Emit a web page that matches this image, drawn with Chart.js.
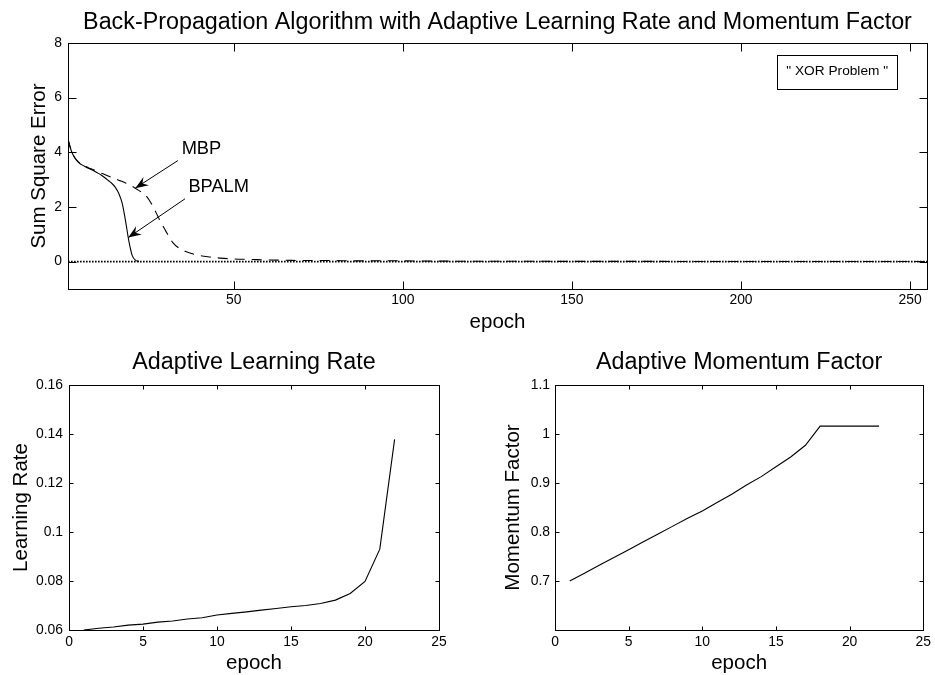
<!DOCTYPE html>
<html>
<head>
<meta charset="utf-8">
<title>Back-Propagation with Adaptive Learning Rate and Momentum</title>
<script src="https://cdn.jsdelivr.net/npm/chart.js@4"></script>
<style>
  body { margin: 0; background: #fff; width: 935px; height: 675px; position: relative; overflow: hidden; }
  .panel { position: absolute; }
</style>
</head>
<body>
<div class="panel" style="left:0;top:0;width:935px;height:340px"><canvas id="sseChart"></canvas></div>
<div class="panel" style="left:0;top:340px;width:470px;height:335px"><canvas id="lrChart"></canvas></div>
<div class="panel" style="left:470px;top:340px;width:465px;height:335px"><canvas id="mfChart"></canvas></div>

<script>
// error curves (sum square error per epoch)
const bpalmEpochs = [1, 2, 3, 4, 5, 6, 7, 8, 9, 10, 11, 12, 13, 14, 15, 16, 17, 18, 19, 20, 21, 22];
const bpalmSse = [4.48, 4.05, 3.8, 3.64, 3.55, 3.48, 3.42, 3.36, 3.3, 3.23, 3.15, 3.06, 2.96, 2.86, 2.72, 2.5, 2.15, 1.5, 0.75, 0.22, 0.05, 0.01];
const mbpEpochs = [1, 2, 3, 4, 5, 6, 7, 8, 9, 10, 12, 14, 16, 18, 20, 22, 24, 26, 28, 30, 32, 34, 36, 38, 40, 43, 46, 50, 55, 60, 65, 70, 75, 80, 85, 90, 95, 100, 105, 110, 130, 160, 200, 255];
const mbpSse = [4.48, 4.05, 3.8, 3.66, 3.57, 3.5, 3.44, 3.39, 3.34, 3.28, 3.18, 3.08, 2.98, 2.88, 2.76, 2.6, 2.42, 2.05, 1.55, 1.1, 0.7, 0.48, 0.36, 0.28, 0.22, 0.17, 0.13, 0.1, 0.08, 0.06, 0.055, 0.04, 0.045, 0.04, 0.03, 0.03, 0.035, 0.03, 0.025, 0.02, 0.015, 0.01, 0.008, 0.005];
const goalEpochs = [1, 255];
const goalSse = [0, 0];
const sseTicksX = [50, 100, 150, 200, 250];
const sseTicksY = [0, 2, 4, 6, 8];

// adaptive parameters per epoch
const paramEpochs = [1, 2, 3, 4, 5, 6, 7, 8, 9, 10, 11, 12, 13, 14, 15, 16, 17, 18, 19, 20, 21, 22];
const learningRate = [0.06, 0.0607, 0.0612, 0.062, 0.0624, 0.0632, 0.0637, 0.0645, 0.065, 0.0661, 0.0668, 0.0674, 0.0681, 0.0688, 0.0695, 0.07, 0.0708, 0.0722, 0.0749, 0.0798, 0.093, 0.1378];
const momentumFactor = [0.7, 0.716, 0.732, 0.748, 0.764, 0.78, 0.796, 0.812, 0.828, 0.843, 0.86, 0.877, 0.896, 0.913, 0.933, 0.953, 0.977, 1.016, 1.016, 1.016, 1.016, 1.016];
const paramTicksX = [0, 5, 10, 15, 20, 25];
const lrTicksY = [0.06, 0.08, 0.1, 0.12, 0.14, 0.16];
const mfTicksY = [0.7, 0.8, 0.9, 1, 1.1];

const FONT = "'Liberation Sans', Arial, sans-serif";

function pts(xs, ys) {
  return xs.map((x, i) => ({ x: x, y: ys[i] }));
}

function fmt(v) {
  return String(+v.toFixed(4));
}

// MATLAB-like box: full frame, inward ticks on all four sides, titles drawn by hand
const frame = {
  id: "frame",
  afterDatasetsDraw(chart, args, opts) {
    const { ctx, chartArea: a, scales } = chart;
    const x = scales.x, y = scales.y;
    const L = Math.round(a.left) + 0.5, R = Math.round(a.right) + 0.5;
    const T = Math.round(a.top) + 0.5, B = Math.round(a.bottom) + 0.5;
    ctx.save();
    ctx.strokeStyle = "#000";
    ctx.lineWidth = 1;
    ctx.strokeRect(L, T, R - L, B - T);
    ctx.beginPath();
    x.ticks.forEach((t) => {
      const px = Math.round(x.getPixelForValue(t.value)) + 0.5;
      ctx.moveTo(px, B); ctx.lineTo(px, B - opts.tickLen);
      ctx.moveTo(px, T); ctx.lineTo(px, T + opts.tickLen);
    });
    y.ticks.forEach((t) => {
      const py = Math.round(y.getPixelForValue(t.value)) + 0.5;
      ctx.moveTo(L, py); ctx.lineTo(L + opts.tickLen, py);
      ctx.moveTo(R, py); ctx.lineTo(R - opts.tickLen, py);
    });
    ctx.stroke();

    ctx.fillStyle = "#000";
    ctx.textAlign = "center";
    ctx.textBaseline = "middle";
    const cx = (a.left + a.right) / 2;
    ctx.font = opts.titleSize + "px " + FONT;
    ctx.fillText(opts.title, cx, opts.titleY);
    ctx.font = opts.labelSize + "px " + FONT;
    ctx.fillText(opts.xLabel, cx, opts.xLabelY);
    ctx.translate(opts.yLabelX, (a.top + a.bottom) / 2);
    ctx.rotate(-Math.PI / 2);
    ctx.fillText(opts.yLabel, 0, 0);
    ctx.restore();
  },
};

// arrows and the text box on the error plot
const sseNotes = {
  id: "sseNotes",
  afterDatasetsDraw(chart) {
    const { ctx, scales: { x, y } } = chart;
    const P = (p) => [x.getPixelForValue(p[0]), y.getPixelForValue(p[1])];
    const arrows = [
      { text: "MBP", at: [34.6, 4.12], from: [33.5, 3.7], to: [20.9, 2.69] },
      { text: "BPALM", at: [36.6, 2.72], from: [35.6, 2.3], to: [18.8, 0.88] },
    ];
    ctx.save();
    ctx.strokeStyle = "#000";
    ctx.fillStyle = "#000";
    ctx.lineWidth = 1;
    ctx.font = "18.3px " + FONT;
    ctx.textAlign = "left";
    ctx.textBaseline = "middle";
    arrows.forEach((n) => {
      const [tx, ty] = P(n.at);
      ctx.fillText(n.text, tx, ty);
      const [x0, y0] = P(n.from);
      const [x1, y1] = P(n.to);
      ctx.beginPath();
      ctx.moveTo(x0, y0);
      ctx.lineTo(x1, y1);
      ctx.stroke();
      const ang = Math.atan2(y1 - y0, x1 - x0);
      const hl = 13, hw = 5;
      const bx = x1 - hl * Math.cos(ang), by = y1 - hl * Math.sin(ang);
      const nx = -Math.sin(ang) * hw, ny = Math.cos(ang) * hw;
      const mx = x1 - hl * 0.65 * Math.cos(ang), my = y1 - hl * 0.65 * Math.sin(ang);
      ctx.beginPath();
      ctx.moveTo(x1, y1);
      ctx.lineTo(bx + nx, by + ny);
      ctx.lineTo(mx, my);
      ctx.lineTo(bx - nx, by - ny);
      ctx.closePath();
      ctx.fill();
    });

    // label box in the upper right corner
    const [bx0, by0] = P([210.7, 7.55]);
    const [bx1, by1] = P([246.2, 6.32]);
    ctx.strokeRect(Math.round(bx0) + 0.5, Math.round(by0) + 0.5, Math.round(bx1 - bx0), Math.round(by1 - by0));
    ctx.font = "13.7px " + FONT;
    ctx.textAlign = "center";
    ctx.fillText('" XOR Problem "', (bx0 + bx1) / 2, (by0 + by1) / 2 - 1);
    ctx.restore();
  },
};

function axisOpts(min, max, tickValues, fit, padding, isY) {
  return {
    type: "linear",
    min: min,
    max: max,
    grid: { display: false, drawTicks: false },
    border: { display: false },
    ticks: {
      color: "#000",
      font: { family: FONT, size: 13.9 },
      padding: padding,
      autoSkip: false,
      maxRotation: 0,
      callback: (v) => fmt(v),
    },
    afterBuildTicks: (s) => {
      s.ticks = tickValues.map((v) => ({ value: v }));
    },
    afterFit: (s) => {
      if (isY) s.width = fit;
      else s.height = fit;
    },
  };
}

function baseOptions(layoutPad, xAxis, yAxis, frameOpts) {
  return {
    responsive: true,
    maintainAspectRatio: false,
    animation: false,
    events: [],
    layout: { padding: layoutPad },
    elements: { point: { radius: 0 } },
    scales: { x: xAxis, y: yAxis },
    plugins: {
      legend: { display: false },
      tooltip: { enabled: false },
      title: { display: false },
      frame: frameOpts,
    },
  };
}

new Chart(document.getElementById("sseChart"), {
  type: "line",
  data: {
    datasets: [
      {
        label: "BPALM",
        data: pts(bpalmEpochs, bpalmSse),
        borderColor: "#000",
        borderWidth: 1.1,
        cubicInterpolationMode: "monotone",
      },
      {
        label: "MBP",
        data: pts(mbpEpochs, mbpSse),
        borderColor: "#000",
        borderWidth: 1.1,
        borderDash: [10, 7],
        cubicInterpolationMode: "monotone",
      },
      {
        label: "Goal",
        data: pts(goalEpochs, goalSse),
        borderColor: "#000",
        borderWidth: 1.6,
        borderDash: [1.6, 1.4],
      },
    ],
  },
  options: baseOptions(
    { top: 43, right: 8, left: 0, bottom: 0 },
    axisOpts(1, 255, sseTicksX, 51, 3, false),
    axisOpts(-1, 8, sseTicksY, 68, 6, true),
    {
      tickLen: 8,
      title: "Back-Propagation Algorithm with Adaptive Learning Rate and Momentum Factor",
      titleSize: 23.3,
      titleY: 23,
      xLabel: "epoch",
      xLabelY: 322,
      yLabel: "Sum Square Error",
      yLabelX: 39,
      labelSize: 20.5,
    }
  ),
  plugins: [frame, sseNotes],
});

new Chart(document.getElementById("lrChart"), {
  type: "line",
  data: {
    datasets: [
      {
        label: "Learning Rate",
        data: pts(paramEpochs, learningRate),
        borderColor: "#000",
        borderWidth: 1.1,
        tension: 0,
      },
    ],
  },
  options: baseOptions(
    { top: 45, right: 31, left: 0, bottom: 0 },
    axisOpts(0, 25, paramTicksX, 45, 4, false),
    axisOpts(0.06, 0.16, lrTicksY, 69, 6, true),
    {
      tickLen: 4,
      title: "Adaptive Learning Rate",
      titleSize: 23.3,
      titleY: 23,
      xLabel: "epoch",
      xLabelY: 323,
      yLabel: "Learning Rate",
      yLabelX: 21,
      labelSize: 20.5,
    }
  ),
  plugins: [frame],
});

new Chart(document.getElementById("mfChart"), {
  type: "line",
  data: {
    datasets: [
      {
        label: "Momentum Factor",
        data: pts(paramEpochs, momentumFactor),
        borderColor: "#000",
        borderWidth: 1.1,
        tension: 0,
      },
    ],
  },
  options: baseOptions(
    { top: 45, right: 10, left: 0, bottom: 0 },
    axisOpts(0, 25, paramTicksX, 45, 4, false),
    axisOpts(0.6, 1.1, mfTicksY, 85, 5, true),
    {
      tickLen: 4,
      title: "Adaptive Momentum Factor",
      titleSize: 23.3,
      titleY: 23,
      xLabel: "epoch",
      xLabelY: 323,
      yLabel: "Momentum Factor",
      yLabelX: 43,
      labelSize: 20.5,
    }
  ),
  plugins: [frame],
});
</script>
</body>
</html>
